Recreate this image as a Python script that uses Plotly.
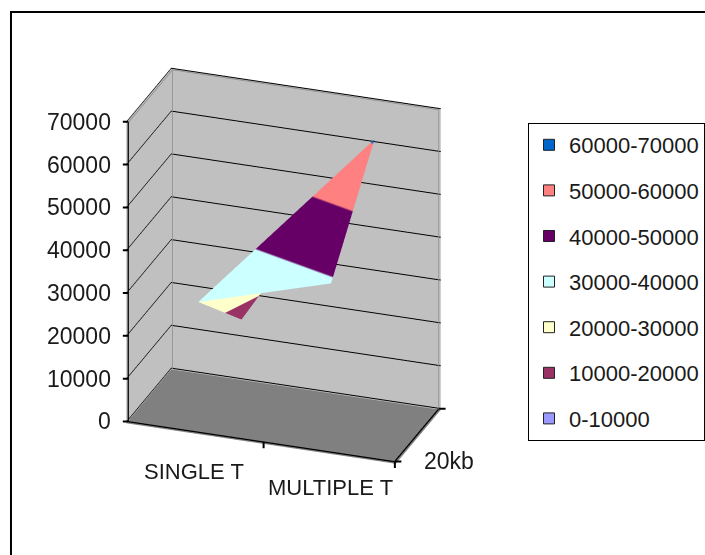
import plotly.graph_objects as go

# ---- data ----
categories = ["SINGLE T", "MULTIPLE T"]
series = ["20kb"]
values_front = [30000, 39000]
values_back = [13800, 60500]
z_ticks = [0, 10000, 20000, 30000, 40000, 50000, 60000, 70000]
band_labels = ["60000-70000", "50000-60000", "40000-50000", "30000-40000",
               "20000-30000", "10000-20000", "0-10000"]
band_colors = ["#0066CC", "#FF8080", "#660066", "#CCFFFF",
               "#FFFFCC", "#993366", "#9999FF"]

FONT = "Liberation Sans, Arial, sans-serif"
TXT = "#1a1a1a"

# axis ranges: category slots 0..2, one series slot 0..1 (walls sit just outside)
XR = [-0.03, 2.0]
YR = [-0.04, 1.0]
ZR = [-300, 70000]
EPS_X, EPS_Y = 0.012, 0.01

# stepped colorscale (bottom band first)
bands_up = list(reversed(band_colors))
n = len(bands_up)
cs = []
for i, c in enumerate(bands_up):
    cs.append([i / n, c])
    cs.append([(i + 1) / n, c])

xpos = [0.5, 1.5]
ypos = [0, 1]

# surface grid as a mesh: vertices (front row, back row)
vx, vy, vz = [], [], []
for yi, row in zip(ypos, [values_front, values_back]):
    for xi, v in zip(xpos, row):
        vx.append(xi)
        vy.append(yi)
        vz.append(v)

fig = go.Figure()
fig.add_trace(go.Mesh3d(
    x=vx, y=vy, z=vz,
    i=[0, 0], j=[1, 2], k=[3, 3],
    intensity=vz, colorscale=cs, cmin=0, cmax=70000, showscale=False,
    flatshading=True,
    lighting=dict(ambient=1, diffuse=0, specular=0, fresnel=0, roughness=1),
    hoverinfo="z", showlegend=False,
))


def seg_trace(segs, color, width):
    xs, ys, zs = [], [], []
    for (a, b) in segs:
        xs += [a[0], b[0], None]
        ys += [a[1], b[1], None]
        zs += [a[2], b[2], None]
    return go.Scatter3d(x=xs, y=ys, z=zs, mode="lines",
                        line=dict(color=color, width=width),
                        hoverinfo="skip", showlegend=False)


xl = XR[0] + EPS_X      # just in front of left wall
xr = XR[1] - EPS_X
yf = YR[0] + EPS_Y      # front edge
yb = YR[1] - EPS_Y      # just in front of back wall
zt = z_ticks[-1] - 200
zb = z_ticks[0]

# wall outlines (gray)
wall_edges = [
    ((xl, yf, zt), (xl, yb, zt)),
    ((xl, yb, zt), (xr, yb, zt)),
    ((xl, yb, zb), (xl, yb, zt)),
    ((xr, yb, zb), (xr, yb, zt)),
]
fig.add_trace(seg_trace(wall_edges, "#8c8c8c", 1.5))

# black axis lines
axis_segs = [((xl, yf, zb), (xl, yf, z_ticks[-1])),
             ((xl, yf, zb), (xr, yf, zb)),
             ((xr, yf, zb), (xr, yb, zb))]
fig.add_trace(seg_trace(axis_segs, "black", 2.5))

for lab, col in zip(band_labels, band_colors):
    fig.add_trace(go.Scatter3d(
        x=[None], y=[None], z=[None], mode="markers", name=lab,
        legendgroup=lab,
        marker=dict(symbol="square", size=11, color=col,
                    line=dict(color="#222", width=1)),
    ))

tick = dict(text="", showarrow=True, arrowhead=0, arrowwidth=2,
            arrowcolor="black", standoff=0, startstandoff=0)
ann = []
for v in z_ticks:
    ann.append(dict(x=xl, y=yf, z=v, ax=-7, ay=0, **tick))
    ann.append(dict(x=xl, y=yf, z=v, text=str(v), showarrow=False,
                    xanchor="right", yanchor="middle", xshift=-15,
                    font=dict(family=FONT, size=23, color=TXT)))
for xv in [1, 2]:
    ann.append(dict(x=min(xv, xr), y=yf, z=zb, ax=0, ay=8, **tick))
for yv in [yf, yb]:
    ann.append(dict(x=xr, y=yv, z=zb, ax=8, ay=0, **tick))
ann.append(dict(x=xpos[0], y=yf, z=zb, text=categories[0], showarrow=False,
                xanchor="center", yanchor="middle", xshift=-3, yshift=-40,
                font=dict(family=FONT, size=22, color=TXT)))
ann.append(dict(x=xpos[1], y=yf, z=zb, text=categories[1], showarrow=False,
                xanchor="center", yanchor="middle", xshift=0, yshift=-36,
                font=dict(family=FONT, size=22, color=TXT)))
ann.append(dict(x=xr, y=0.5, z=zb, text=series[0], showarrow=False,
                xanchor="left", yanchor="middle", xshift=4, yshift=-27,
                font=dict(family=FONT, size=23, color=TXT)))

axis_common = dict(showspikes=False, title=dict(text=""), zeroline=False,
                   showticklabels=False, ticks="", showline=False)

fig.update_layout(
    width=705, height=555,
    margin=dict(l=0, r=0, t=0, b=0),
    paper_bgcolor="white",
    font=dict(family=FONT, color=TXT),
    scene=dict(
        domain=dict(x=[0.0, 0.806], y=[0.042, 1.0]),
        xaxis=dict(range=XR, showgrid=False,
                   showbackground=True, backgroundcolor="#c0c0c0", **axis_common),
        yaxis=dict(range=YR, showgrid=False,
                   showbackground=True, backgroundcolor="#c0c0c0", **axis_common),
        zaxis=dict(range=ZR, tickvals=z_ticks, showgrid=True,
                   gridcolor="black", gridwidth=2,
                   showbackground=True, backgroundcolor="#808080", **axis_common),
        aspectmode="manual", aspectratio=dict(x=1.075, y=0.507, z=1.25),
        camera=dict(eye=dict(x=0.454, y=-1.281, z=0.636), center=dict(x=0, y=0, z=0),
                    up=dict(x=0, y=0, z=1), projection=dict(type="orthographic")),
        annotations=ann,
    ),
    legend=dict(x=0.75, y=1 - 123 / 555, xanchor="left", yanchor="top",
                bordercolor="black", borderwidth=1, bgcolor="white",
                font=dict(family=FONT, size=22, color=TXT),
                tracegroupgap=14, traceorder="grouped"),
    shapes=[dict(type="rect", xref="paper", yref="paper",
                 x0=11 / 705, x1=1.05, y0=-0.05, y1=1 - 12 / 555,
                 line=dict(color="black", width=2), layer="below")],
)

fig.write_html("out.html", config={"displayModeBar": False},
               post_script="document.body.style.margin='0';")
